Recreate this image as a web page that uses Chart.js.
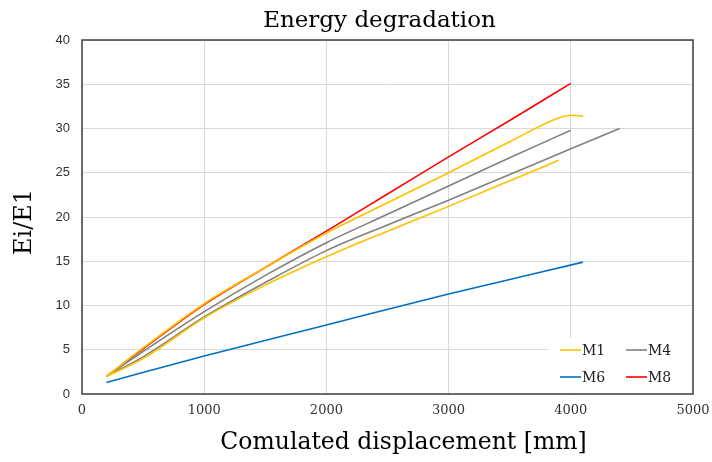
<!DOCTYPE html>
<html>
<head>
<meta charset="utf-8">
<script src="https://cdn.jsdelivr.net/npm/chart.js@4.4.0/dist/chart.umd.min.js"></script>
<style>
    html, body { margin: 0; padding: 0; background: #fff; }
    #wrap { width: 712px; height: 462px; }
</style>
</head>
<body>
<div id="wrap"><canvas id="energyChart" width="712" height="462"></canvas></div>
<script>
    // x = cumulated displacement [mm], y = Ei/E1
    const m1X = [200, 500, 1000, 1500, 2000, 2500, 3000, 3500, 3900, 4000, 4100];
    const m1Y = [2.0, 5.2, 10.2, 14.3, 18.2, 21.6, 25.0, 28.5, 31.2, 31.5, 31.4];

    const m2X = [200, 500, 1000, 1500, 2000, 2500, 3000, 3500, 3900];
    const m2Y = [2.0, 4.0, 8.6, 12.3, 15.5, 18.4, 21.2, 24.1, 26.4];

    const m4X = [200, 500, 1000, 1500, 2000, 2500, 3000, 3500, 4000];
    const m4Y = [2.0, 4.8, 9.3, 13.4, 17.1, 20.3, 23.5, 26.7, 29.8];

    const m5X = [200, 500, 1000, 1500, 2000, 2500, 3000, 3500, 4000, 4400];
    const m5Y = [2.0, 4.2, 8.7, 12.6, 16.2, 19.1, 21.9, 24.8, 27.7, 30.0];

    const m6X = [200, 1000, 2000, 3000, 4100];
    const m6Y = [1.3, 4.3, 7.8, 11.3, 14.9];

    const m8X = [200, 500, 1000, 1500, 2000, 2500, 3000, 3500, 4000];
    const m8Y = [2.0, 5.1, 10.1, 14.3, 18.4, 22.6, 26.8, 30.9, 35.1];

    const xTicks = [0, 1000, 2000, 3000, 4000, 5000];
    const yTicks = [0, 5, 10, 15, 20, 25, 30, 35, 40];

    // series shown in the legend (same order as reference)
    const legendNames = ['M1', 'M4', 'M6', 'M8'];

    const chartTitle = 'Energy degradation';
    const xTitle = 'Comulated displacement [mm]';
    const yTitle = 'Ei/E1';

    const YELLOW = '#FFC000';
    const GREY = '#808080';
    const BLUE = '#0070C0';
    const RED = '#FF0000';

    function pts(xs, ys) {
        return xs.map((x, i) => ({ x: x, y: ys[i] }));
    }

    function series(label, xs, ys, color) {
        return {
            label: label,
            data: pts(xs, ys),
            borderColor: color,
            backgroundColor: color,
            borderWidth: 1.6,
            showLine: true,
            pointRadius: 0,
            cubicInterpolationMode: 'monotone'
        };
    }

    const serifFont = "'DejaVu Serif', serif";

    // frame around the plot area
    const frame = {
        id: 'frame',
        afterDatasetsDraw(chart) {
            const a = chart.chartArea;
            const ctx = chart.ctx;
            ctx.save();
            ctx.strokeStyle = '#404040';
            ctx.lineWidth = 1.5;
            ctx.strokeRect(a.left, a.top, a.right - a.left, a.bottom - a.top);
            ctx.restore();
        }
    };

    // chart title and axis titles, placed like the Excel original
    const titles = {
        id: 'titles',
        afterDraw(chart) {
            const a = chart.chartArea;
            const ctx = chart.ctx;
            const midX = (a.left + a.right) / 2;
            ctx.save();
            ctx.fillStyle = '#000';
            ctx.textAlign = 'center';
            ctx.textBaseline = 'middle';
            ctx.font = '23px ' + serifFont;
            ctx.fillText(chartTitle, midX - 8, a.top - 19);
            ctx.font = '23.5px ' + serifFont;
            ctx.fillText(xTitle, midX + 16, a.bottom + 49);
            ctx.translate(a.left - 57, (a.top + a.bottom) / 2 + 5);
            ctx.rotate(-Math.PI / 2);
            ctx.font = '24px ' + serifFont;
            ctx.fillText(yTitle, 0, 0);
            ctx.restore();
        }
    };

    // legend inside the plot, bottom right, two columns
    const innerLegend = {
        id: 'innerLegend',
        afterDatasetsDraw(chart) {
            const a = chart.chartArea;
            const ctx = chart.ctx;
            ctx.save();
            ctx.fillStyle = '#ffffff';
            ctx.fillRect(a.right - 145, a.bottom - 56, 144, 55);
            ctx.font = '14px ' + serifFont;
            ctx.textBaseline = 'middle';
            ctx.textAlign = 'left';
            const items = chart.data.datasets.filter(d => legendNames.includes(d.label));
            items.sort((p, q) => legendNames.indexOf(p.label) - legendNames.indexOf(q.label));
            items.forEach((d, i) => {
                const x = a.right - 133 + (i % 2) * 66;
                const y = a.bottom - 44 + Math.floor(i / 2) * 27;
                ctx.strokeStyle = d.borderColor;
                ctx.lineWidth = 1.6;
                ctx.beginPath();
                ctx.moveTo(x, y);
                ctx.lineTo(x + 21, y);
                ctx.stroke();
                ctx.fillStyle = '#222';
                ctx.fillText(d.label, x + 22, y + 1);
            });
            ctx.restore();
        }
    };

    const energyChart = new Chart(document.getElementById('energyChart'), {
        type: 'scatter',
        data: {
            datasets: [
                series('M1', m1X, m1Y, YELLOW),
                series('M2', m2X, m2Y, YELLOW),
                series('M4', m4X, m4Y, GREY),
                series('M5', m5X, m5Y, GREY),
                series('M6', m6X, m6Y, BLUE),
                series('M8', m8X, m8Y, RED)
            ]
        },
        options: {
            responsive: false,
            animation: false,
            layout: { padding: { left: 0, right: 19, top: 40, bottom: 0 } },
            plugins: {
                legend: { display: false },
                tooltip: { enabled: false },
                title: { display: false }
            },
            scales: {
                x: {
                    type: 'linear',
                    min: xTicks[0],
                    max: xTicks[xTicks.length - 1],
                    afterBuildTicks(scale) {
                        scale.ticks = xTicks.map(v => ({ value: v }));
                    },
                    afterFit(scale) { scale.height = 68; },
                    grid: { color: '#d9d9d9', drawTicks: true, tickLength: 9, tickColor: 'rgba(0,0,0,0)' },
                    border: { display: false },
                    ticks: {
                        color: '#333',
                        padding: 0,
                        maxRotation: 0,
                        font: { family: serifFont, size: 13 },
                        callback: v => String(v)
                    }
                },
                y: {
                    type: 'linear',
                    min: yTicks[0],
                    max: yTicks[yTicks.length - 1],
                    afterBuildTicks(scale) {
                        scale.ticks = yTicks.map(v => ({ value: v }));
                    },
                    afterFit(scale) { scale.width = 82; },
                    grid: { color: '#d9d9d9', drawTicks: true, tickLength: 12, tickColor: 'rgba(0,0,0,0)' },
                    border: { display: false },
                    ticks: {
                        color: '#333',
                        padding: 0,
                        font: { family: "'Liberation Sans', Arial, sans-serif", size: 13 }
                    }
                }
            }
        },
        plugins: [frame, innerLegend, titles]
    });
</script>
</body>
</html>
